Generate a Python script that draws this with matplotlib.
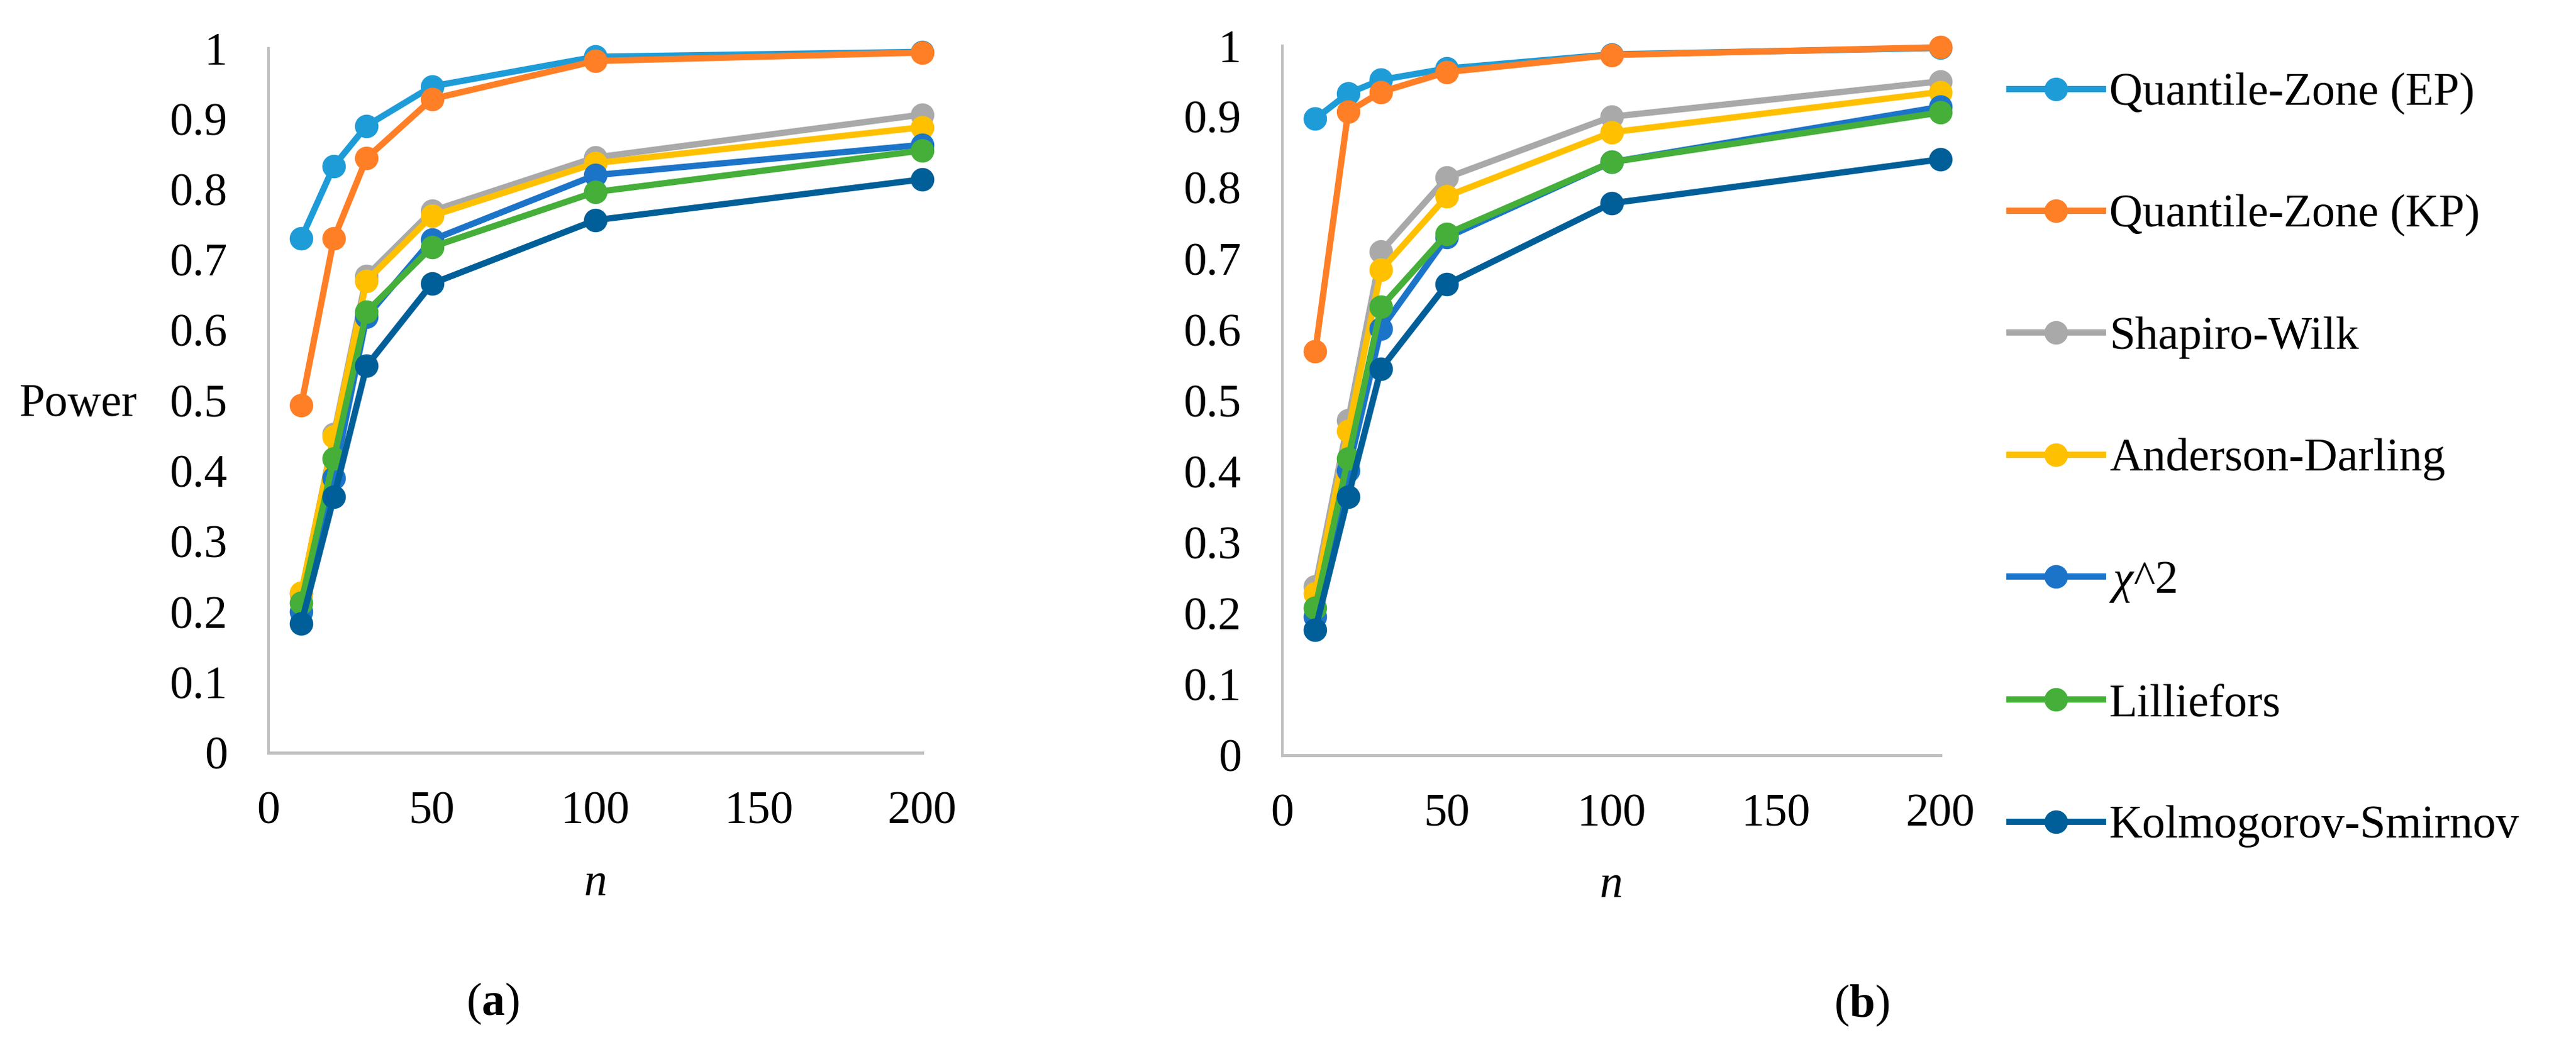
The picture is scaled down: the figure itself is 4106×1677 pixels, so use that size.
import matplotlib
matplotlib.use("Agg")
import matplotlib.pyplot as plt

# --- data -------------------------------------------------------------------
n_values = [10, 20, 30, 50, 100, 200]

series_names = ["Quantile-Zone (EP)", "Quantile-Zone (KP)", "Shapiro-Wilk",
                "Anderson-Darling", r"$\chi$^2", "Lilliefors", "Kolmogorov-Smirnov"]
series_colors = ["#1E9CD8", "#FF7F27", "#A9A9A9", "#FFC000", "#1C74C9", "#45AF3A", "#005F98"]

# panel (a)
ep_a = [0.730, 0.833, 0.890, 0.946, 0.988, 0.995]
kp_a = [0.493, 0.730, 0.844, 0.928, 0.982, 0.994]
sw_a = [0.225, 0.452, 0.677, 0.769, 0.845, 0.906]
ad_a = [0.227, 0.449, 0.670, 0.762, 0.837, 0.888]
chi_a = [0.200, 0.390, 0.619, 0.728, 0.820, 0.863]
lil_a = [0.213, 0.418, 0.626, 0.718, 0.796, 0.855]
ks_a = [0.183, 0.363, 0.549, 0.666, 0.756, 0.814]

# panel (b)
ep_b = [0.897, 0.933, 0.952, 0.968, 0.988, 0.997]
kp_b = [0.569, 0.907, 0.935, 0.963, 0.987, 0.998]
sw_b = [0.238, 0.472, 0.710, 0.814, 0.900, 0.950]
ad_b = [0.228, 0.457, 0.684, 0.788, 0.878, 0.935]
chi_b = [0.195, 0.401, 0.601, 0.730, 0.836, 0.914]
lil_b = [0.208, 0.418, 0.632, 0.735, 0.836, 0.906]
ks_b = [0.177, 0.364, 0.545, 0.664, 0.778, 0.840]

x_ticks = [0, 50, 100, 150, 200]
y_ticks = [0, 0.1, 0.2, 0.3, 0.4, 0.5, 0.6, 0.7, 0.8, 0.9, 1]
y_tick_labels = ["0", "0.1", "0.2", "0.3", "0.4", "0.5", "0.6", "0.7", "0.8", "0.9", "1"]

# --- style --------------------------------------------------------------------
plt.rcParams["font.family"] = ["Liberation Serif", "DejaVu Serif"]
plt.rcParams["mathtext.fontset"] = "custom"
plt.rcParams["mathtext.rm"] = "Liberation Serif"
plt.rcParams["mathtext.it"] = "Liberation Serif:italic"
plt.rcParams["mathtext.bf"] = "Liberation Serif:bold"

FS = 53
W, H = 4106, 1677
fig = plt.figure(figsize=(W / 100, H / 100), dpi=100)
fig.patch.set_facecolor("white")


def fx(px):
    return px / W


def fy(py):
    return 1 - py / H


def draw_panel(ax, data):
    handles = []
    for vals, name, col in zip(data, series_names, series_colors):
        h, = ax.plot(n_values, vals, color=col, lw=7.2, marker="o", ms=26,
                     label=name, clip_on=False, solid_joinstyle="round")
        handles.append(h)
    ax.set_xlim(0, 200)
    ax.set_ylim(0, 1)
    ax.set_xticks(x_ticks)
    ax.set_xticklabels([str(v) for v in x_ticks])
    ax.set_yticks(y_ticks)
    ax.set_yticklabels(y_tick_labels)
    ax.tick_params(axis="both", length=0, labelsize=FS)
    ax.tick_params(axis="y", pad=47)
    ax.tick_params(axis="x", pad=44)
    for s in ["top", "right"]:
        ax.spines[s].set_visible(False)
    ax.spines["left"].set_color("#BFBFBF")
    ax.spines["left"].set_linewidth(3.0)
    ax.spines["bottom"].set_color("#BFBFBF")
    ax.spines["bottom"].set_linewidth(3.6)
    return handles


ax_a = fig.add_axes([fx(428), fy(1200), fx(1470 - 428), (1200 - 77) / H])
ax_b = fig.add_axes([fx(2044), fy(1204), fx(3093 - 2044), (1204 - 73) / H])

handles = draw_panel(ax_a, [ep_a, kp_a, sw_a, ad_a, chi_a, lil_a, ks_a])
draw_panel(ax_b, [ep_b, kp_b, sw_b, ad_b, chi_b, lil_b, ks_b])

# axis titles and captions
fig.text(fx(31), fy(645), "Power", fontsize=FS, ha="left", va="center")
fig.text(fx(949), fy(1409), "n", fontsize=FS, style="italic", ha="center", va="center")
fig.text(fx(2568), fy(1412), "n", fontsize=FS, style="italic", ha="center", va="center")
fig.text(fx(785), fy(1600), r"($\mathbf{a}$)", fontsize=FS, ha="center", va="center")
fig.text(fx(2967), fy(1603), r"($\mathbf{b}$)", fontsize=FS, ha="center", va="center")

fig.legend(handles=handles, loc="upper left", bbox_to_anchor=(fx(3203), fy(116)),
           frameon=False, fontsize=FS, numpoints=1, handlelength=2.02,
           handletextpad=0.14, labelspacing=1.72, borderpad=0, borderaxespad=0)

fig.savefig("out.png", dpi=100, facecolor="white")
